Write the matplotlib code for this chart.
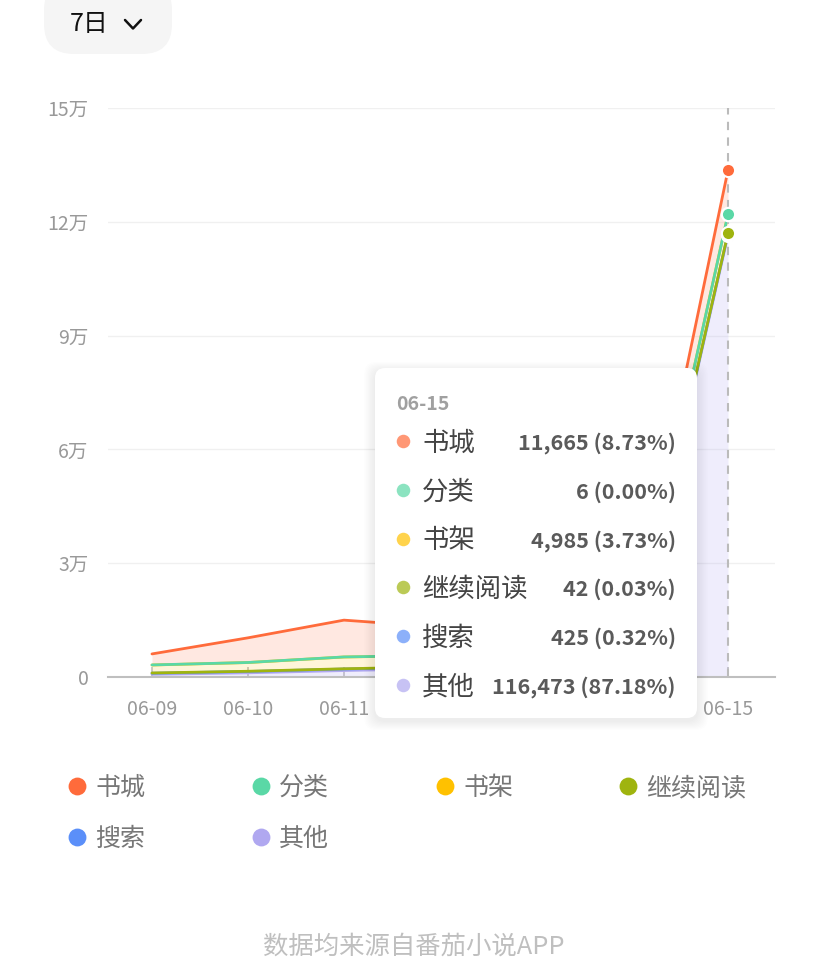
import matplotlib
matplotlib.use("Agg")
import matplotlib.pyplot as plt
from matplotlib.patches import FancyBboxPatch
from matplotlib.ticker import FuncFormatter, MultipleLocator
import numpy as np

plt.rcParams['font.family'] = ['Noto Sans CJK SC', 'DejaVu Sans']

dates = ["06-09", "06-10", "06-11", "06-12", "06-13", "06-14", "06-15"]
series_names = ["书城", "分类", "书架", "继续阅读", "搜索", "其他"]
colors = ["#FF6B3B", "#5AD8A6", "#FFC100", "#9FB40F", "#5B8FF9", "#B0A8F0"]

shucheng = [2900, 6500, 9700, 7500, 6000, 5000, 11665]
fenlei = [20, 15, 20, 15, 10, 10, 6]
shujia = [2100, 2300, 3100, 3000, 2500, 1900, 4985]
jixu = [60, 60, 70, 70, 60, 50, 42]
sousuo = [300, 350, 400, 400, 420, 450, 425]
qita = [700, 1100, 1700, 2200, 3500, 5000, 116473]

values = [shucheng, fenlei, shujia, jixu, sousuo, qita]
fill_alpha = [0.15, 0.15, 0.15, 0.15, 0.15, 0.2]

W, H = 828, 975
fig = plt.figure(figsize=(W / 100, H / 100), dpi=100)
fig.patch.set_facecolor("white")

ax = fig.add_axes([108 / W, 1 - 677 / H, (775 - 108) / W, (677 - 108) / H])
x = np.arange(len(dates))
ax.set_xlim(-0.458, 6.49)
ax.set_ylim(0, 150000)

# stacked from bottom: 其他, 搜索, 继续阅读, 书架, 分类, 书城
order = list(range(len(series_names)))[::-1]
base = np.zeros(len(dates))
tops = {}
for i in order:
    top = base + np.array(values[i], dtype=float)
    ax.fill_between(x, base, top, color=colors[i], alpha=fill_alpha[i], lw=0, zorder=2)
    tops[i] = top
    base = top
for i in order:
    ax.plot(x, tops[i], color=colors[i], lw=2, zorder=3 + (len(order) - i) * 0.1,
            solid_capstyle="round")

# hover guide line and points at last date
last = len(dates) - 1
ax.axvline(last, color="#BBBBBB", lw=1.5, ls=(0, (4, 3.5)), zorder=4)
for i in order:
    ax.plot([x[last]], [tops[i][last]], "o", ms=9.5, mfc=colors[i], mec="white",
            mew=1.5, zorder=6)

ax.yaxis.set_major_locator(MultipleLocator(30000))
ax.yaxis.set_major_formatter(FuncFormatter(lambda v, p: "0" if v == 0 else f"{v/10000:g}万"))
ax.grid(axis="y", color="#F0F0F0", lw=1, zorder=0)
ax.set_axisbelow(True)
for s in ["left", "right", "top"]:
    ax.spines[s].set_visible(False)
ax.spines["bottom"].set_color("#BFBFBF")
ax.spines["bottom"].set_linewidth(1.5)
ax.spines["bottom"].set_zorder(5)
ax.set_xticks(x)
ax.set_xticklabels(dates)
ax.tick_params(axis="x", direction="in", length=7, width=1.2, color="#BFBFBF",
               labelsize=14, labelcolor="#999999", pad=16)
ax.tick_params(axis="y", length=0, labelsize=14, labelcolor="#999999", pad=14)

# overlay in pixel coordinates
ov = fig.add_axes([0, 0, 1, 1])
ov.set_xlim(0, W)
ov.set_ylim(H, 0)
ov.axis("off")
ov.set_zorder(10)
ov.patch.set_alpha(0)

# period selector pill
ov.add_patch(FancyBboxPatch((44, -20), 128, 74, boxstyle="round,pad=0,rounding_size=30",
                            fc="#F5F5F5", ec="none"))
ov.text(70, 24, "7日", fontsize=18, color="#111111", va="center", ha="left")
ov.plot([125, 133, 141], [20, 28.5, 20], color="#111111", lw=1.8,
        solid_capstyle="round", solid_joinstyle="round")

# tooltip
tx, ty, tw, th = 375, 368, 322, 350
for k in range(1, 10):
    ov.add_patch(FancyBboxPatch((tx - k * 1.2, ty - k * 1.0 + 3), tw + k * 2.4, th + k * 2.0,
                                boxstyle="round,pad=0,rounding_size=12",
                                fc="black", ec="none", alpha=0.008))
ov.add_patch(FancyBboxPatch((tx, ty), tw, th, boxstyle="round,pad=0,rounding_size=10",
                            fc="white", ec="none"))
ov.text(396, 404, dates[last], fontsize=14, color="#A0A0A0", va="center", ha="left",
        fontweight="bold")
total = sum(v[last] for v in values)
for k, name in enumerate(series_names):
    yy = 441 + k * 48.8
    ov.scatter([403], [yy], s=95, color=colors[k], alpha=0.7, lw=0)
    ov.text(422, yy + 2, name, fontsize=19, color="#444444", va="center", ha="left")
    v = values[k][last]
    ov.text(676, yy + 2, f"{v:,} ({v/total*100:.2f}%)", fontsize=15.5, color="#5A5A5A",
            va="center", ha="right", fontweight="bold")

# legend
col_x = [77, 261, 445, 628]
row_y = [786, 837]
for k, name in enumerate(series_names):
    cx = col_x[k % 4]
    cy = row_y[k // 4]
    ov.scatter([cx], [cy], s=165, color=colors[k], lw=0)
    ov.text(cx + 18, cy + 2, name, fontsize=18, color="#777777", va="center", ha="left")

ov.text(414, 947, "数据均来源自番茄小说APP", fontsize=18.3, color="#BFBFBF",
        va="center", ha="center")

fig.savefig("out.png", dpi=100, facecolor="white")
